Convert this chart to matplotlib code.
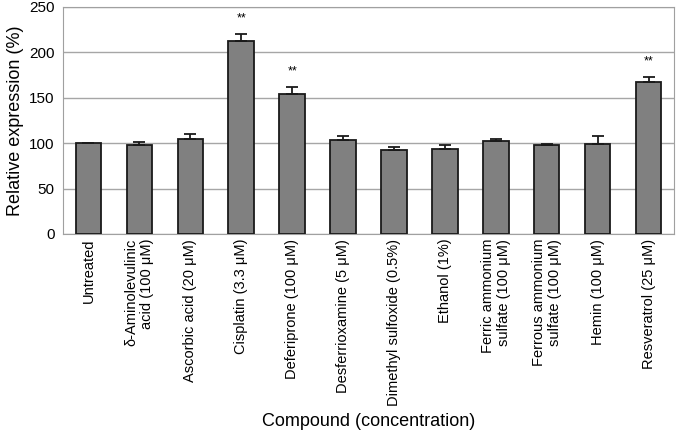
import matplotlib.pyplot as plt
import numpy as np

plt.rcParams['font.family'] = ['Liberation Sans', 'DejaVu Sans']

# donnees
composes = ["Untreated", "δ-Aminolevulinic\nacid (100 μM)", "Ascorbic acid (20 μM)",
            "Cisplatin (3.3 μM)", "Deferiprone (100 μM)", "Desferrioxamine (5 μM)",
            "Dimethyl sulfoxide (0.5%)", "Ethanol (1%)", "Ferric ammonium\nsulfate (100 μM)",
            "Ferrous ammonium\nsulfate (100 μM)", "Hemin (100 μM)", "Resveratrol (25 μM)"]
expression = [100, 97.8, 104.4, 213, 154.5, 103.6, 92.3, 93.8, 102.6, 98.2, 99.6, 167]
erreur = [0, 3.0, 5.2, 7.8, 7.8, 4.0, 4.0, 4.0, 1.7, 1.2, 7.8, 6.3]
significatif = [False, False, False, True, True, False, False, False, False, False, False, True]

fig = plt.figure(figsize=(6.81, 4.32), dpi=100)
ax = fig.add_axes([63/681, 1 - 234/432, 611/681, 227/432])

x = np.arange(len(composes))
ax.bar(x, expression, width=0.5, color='#808080', edgecolor='#1a1a1a', linewidth=1.3, zorder=3)
ax.errorbar(x, expression, yerr=[np.zeros(len(erreur)), erreur], fmt='none',
            ecolor='#1a1a1a', elinewidth=1.3, capsize=4, capthick=1.3, zorder=4)

for i in range(len(composes)):
    if significatif[i]:
        ax.text(x[i], expression[i] + erreur[i] + 17, "**", ha='center', va='center', fontsize=9)

ax.set_xlim(-0.5, len(composes) - 0.5)
ax.set_ylim(0, 250)
ax.set_yticks([0, 50, 100, 150, 200, 250])
ax.yaxis.grid(True, color='#a6a6a6', linewidth=1, zorder=0)
for s in ax.spines.values():
    s.set_color('#a0a0a0')
ax.tick_params(axis='both', length=0, labelsize=11)
ax.tick_params(axis='y', pad=6)
ax.set_xticks(x)
ax.set_xticklabels(composes, rotation=90, ha='center', va='top', multialignment='right', fontsize=10.5)
ax.set_ylabel("Relative expression (%)", fontsize=13)
fig.text(0.5 * (63 + 674) / 681, 1 - 422/432, "Compound (concentration)", ha='center', va='center', fontsize=13)

plt.savefig('out.png', dpi=100)
